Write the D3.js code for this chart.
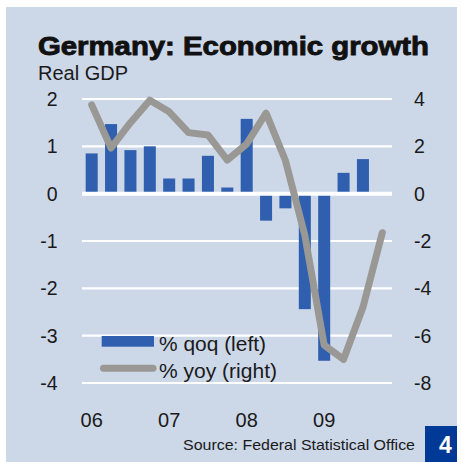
<!DOCTYPE html>
<html>
<head>
<meta charset="utf-8">
<script src="https://cdn.jsdelivr.net/npm/d3@7/dist/d3.min.js"></script>
<style>
  html, body { margin: 0; padding: 0; background: #ffffff; }
  svg { display: block; }
  text { font-family: "Liberation Sans", Arial, sans-serif; fill: #1a1a1a; }
</style>
</head>
<body>
<svg id="chart" width="461" height="462"></svg>
<script>
// Quarterly German real GDP growth, 2006 Q1 – 2009 Q4
const quarters = ["06Q1","06Q2","06Q3","06Q4","07Q1","07Q2","07Q3","07Q4",
                  "08Q1","08Q2","08Q3","08Q4","09Q1","09Q2","09Q3","09Q4"];
const qoq = [0.85, 1.47, 0.92, 1.0, 0.32, 0.32, 0.8, 0.13,
             1.58, -0.57, -0.31, -2.44, -3.53, 0.44, 0.73, 0.0];
const yoy = [3.75, 1.93, 3.0, 3.95, 3.46, 2.58, 2.48, 1.42,
             2.1, 3.4, 1.4, -1.75, -6.4, -7.0, -4.8, -1.65];
const leftTicks = [2, 1, 0, -1, -2, -3, -4];
const rightTicks = [4, 2, 0, -2, -4, -6, -8];
const yearLabels = ["06", "07", "08", "09"];
const yearStarts = ["06Q1", "07Q1", "08Q1", "09Q1"];

const svg = d3.select("#chart");

// Stretch a text element horizontally by factor k (or to an absolute width)
function stretch(sel, k, width) {
  sel.each(function () {
    const w = this.getComputedTextLength();
    const target = width != null ? width : w * k;
    d3.select(this).attr("textLength", target).attr("lengthAdjust", "spacingAndGlyphs");
  });
}

// Panel background
svg.append("rect").attr("x", 6).attr("y", 7).attr("width", 451).attr("height", 455)
  .attr("fill", "#ccd7e8");

// Titles
svg.append("text").attr("x", 38).attr("y", 55)
  .style("font-weight", "bold").style("font-size", "26px").style("fill", "#111")
  .style("stroke", "#111").style("stroke-width", "0.9px")
  .text("Germany: Economic growth")
  .call(stretch, null, 391);
svg.append("text").attr("x", 38).attr("y", 80)
  .style("font-size", "20.5px")
  .text("Real GDP")
  .call(stretch, null, 90);

// Scales
const x = d3.scaleBand().domain(quarters).range([82, 392])
  .paddingInner(0.38).paddingOuter(0.19);
const yL = d3.scaleLinear().domain([-4, 2]).range([383, 99]);
const yR = d3.scaleLinear().domain([-8, 4]).range([383, 99]);

// Horizontal gridlines
svg.append("g").selectAll("line").data(leftTicks.filter(d => d !== 0)).join("line")
  .attr("x1", 82).attr("x2", 392)
  .attr("y1", d => yL(d)).attr("y2", d => yL(d))
  .attr("stroke", "#ffffff").attr("stroke-width", 2.2);

// Bars: % qoq (left axis)
svg.append("g").selectAll("rect").data(quarters).join("rect")
  .attr("x", d => x(d))
  .attr("width", x.bandwidth())
  .attr("y", (d, i) => Math.min(yL(qoq[i]), yL(0)))
  .attr("height", (d, i) => Math.abs(yL(qoq[i]) - yL(0)))
  .attr("fill", "#2f5fae");

// Zero line
svg.append("line").attr("x1", 82).attr("x2", 392)
  .attr("y1", yL(0)).attr("y2", yL(0))
  .attr("stroke", "#ffffff").attr("stroke-width", 4);

// Line: % yoy (right axis)
const line = d3.line()
  .x((d, i) => x(quarters[i]) + x.bandwidth() / 2)
  .y(d => yR(d));
svg.append("path").datum(yoy).attr("d", line)
  .attr("fill", "none").attr("stroke", "#999894").attr("stroke-width", 7)
  .attr("stroke-linejoin", "round").attr("stroke-linecap", "round");

// Left axis labels
svg.append("g").selectAll("text").data(leftTicks).join("text")
  .attr("x", 57.5).attr("y", d => yL(d)).attr("dy", "0.36em")
  .attr("text-anchor", "end").style("font-size", "19.5px")
  .text(d => d);

// Right axis labels
svg.append("g").selectAll("text").data(rightTicks).join("text")
  .attr("x", 414).attr("y", d => yR(d)).attr("dy", "0.36em")
  .attr("text-anchor", "start").style("font-size", "19.5px")
  .text(d => d);

// Year labels under each first quarter
svg.append("g").selectAll("text").data(yearLabels).join("text")
  .attr("x", (d, i) => x(yearStarts[i]) + x.bandwidth() / 2).attr("y", 427)
  .attr("text-anchor", "middle").style("font-size", "20px")
  .text(d => d);

// Legend
const lg = svg.append("g");
lg.append("rect").attr("x", 101.7).attr("y", 336).attr("width", 52.3).attr("height", 10.7)
  .attr("fill", "#2f5fae");
lg.append("line").attr("x1", 103.5).attr("x2", 153).attr("y1", 368.3).attr("y2", 368.3)
  .attr("stroke", "#999894").attr("stroke-width", 7).attr("stroke-linecap", "round");
lg.append("text").attr("x", 159).attr("y", 350.5).style("font-size", "20.5px")
  .text("% qoq (left)").call(stretch, null, 107);
lg.append("text").attr("x", 159).attr("y", 377.5).style("font-size", "20.5px")
  .text("% yoy (right)").call(stretch, null, 118);

// Source note
svg.append("text").attr("x", 183).attr("y", 450).style("font-size", "15px")
  .text("Source: Federal Statistical Office").call(stretch, null, 232);

// Chart number box
svg.append("rect").attr("x", 425).attr("y", 426).attr("width", 32).attr("height", 36)
  .attr("fill", "#003a96");
svg.append("text").attr("x", 445.3).attr("y", 453.3).attr("text-anchor", "middle")
  .style("font-size", "23px").style("font-weight", "bold").style("fill", "#ffffff")
  .text("4");
</script>
</body>
</html>
